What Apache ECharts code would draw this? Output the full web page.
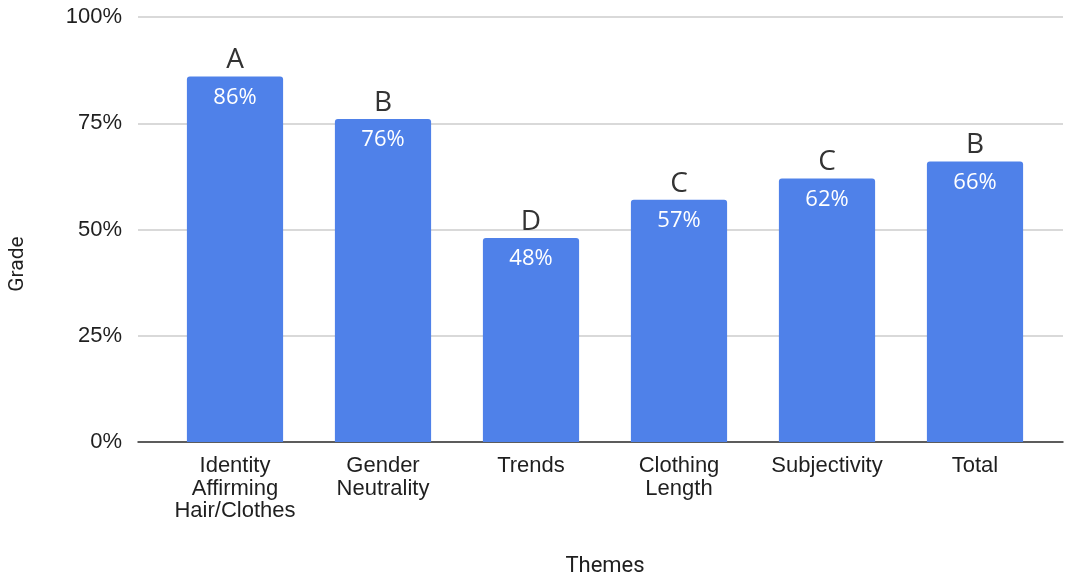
<!DOCTYPE html>
<html>
<head>
<meta charset="utf-8">
<script src="https://cdn.jsdelivr.net/npm/echarts@6/dist/echarts.min.js"></script>
<style>
  html, body { margin: 0; padding: 0; background: #fff; }
  #chart { width: 1066px; height: 580px; }
</style>
</head>
<body>
<div id="chart"></div>
<script>
const themes = ['Identity\nAffirming\nHair/Clothes', 'Gender\nNeutrality', 'Trends', 'Clothing\nLength', 'Subjectivity', 'Total'];
const grades = [0.86, 0.76, 0.48, 0.57, 0.62, 0.66];
const letters = ['A', 'B', 'D', 'C', 'C', 'B'];
const yTicks = [0, 0.25, 0.5, 0.75, 1];

const chart = echarts.init(document.getElementById('chart'), null, { renderer: 'canvas' });

const barColor = '#4f81e9';
const fontSans = 'Liberation Sans, Arial, sans-serif';
const textColor = '#1f1f1f';

chart.setOption({
  animation: false,
  backgroundColor: '#ffffff',
  grid: [
    // frame for the value scale and gridlines
    { left: 138, right: 3, top: 17, bottom: 138 },
    // frame for the bars
    { left: 161, right: 17, top: 17, bottom: 138 }
  ],
  graphic: [
    {
      type: 'text', x: 18, y: 264, rotation: Math.PI / 2,
      style: {
        text: 'Grade', fill: textColor, font: '21px Roboto, sans-serif',
        textAlign: 'center', textVerticalAlign: 'middle'
      }
    },
    {
      type: 'text', x: 605, y: 566,
      style: {
        text: 'Themes', fill: textColor, font: '22px Roboto, sans-serif',
        textAlign: 'center', textVerticalAlign: 'middle'
      }
    }
  ],
  xAxis: [
    {
      gridIndex: 0, type: 'value', min: 0, max: 1,
      axisLine: { show: true, lineStyle: { color: '#333333', width: 1.5 } },
      axisTick: { show: false }, axisLabel: { show: false }, splitLine: { show: false }
    },
    {
      gridIndex: 1, type: 'category', data: themes,
      axisLine: { show: false }, axisTick: { show: false },
      axisLabel: { color: textColor, fontFamily: fontSans, fontSize: 22, lineHeight: 22.5, margin: 13, interval: 0 }
    }
  ],
  yAxis: [
    {
      gridIndex: 0, type: 'value', min: 0, max: 1, interval: 0.25,
      axisLine: { show: false }, axisTick: { show: false },
      axisLabel: {
        color: textColor, fontFamily: fontSans, fontSize: 22, margin: 16,
        formatter: v => (yTicks.indexOf(v) >= 0 ? Math.round(v * 100) + '%' : '')
      },
      splitLine: { lineStyle: { color: '#cccccc', width: 1.5 } }
    },
    {
      gridIndex: 1, type: 'value', min: 0, max: 1, show: false
    }
  ],
  series: [
    {
      type: 'bar', xAxisIndex: 1, yAxisIndex: 1, data: grades,
      barWidth: '65%',
      itemStyle: { color: barColor, borderRadius: [3, 3, 0, 0] },
      label: {
        show: true, position: 'top', distance: 2,
        color: '#333333', fontFamily: 'Open Sans, sans-serif', fontSize: 28,
        formatter: p => letters[p.dataIndex]
      }
    },
    {
      type: 'bar', xAxisIndex: 1, yAxisIndex: 1, data: grades,
      barWidth: '65%', barGap: '-100%', silent: true,
      itemStyle: { color: 'rgba(0,0,0,0)' },
      label: {
        show: true, position: 'insideTop', distance: 10,
        color: '#ffffff', fontFamily: 'Open Sans, sans-serif', fontSize: 22,
        formatter: p => Math.round(p.value * 100) + '%'
      }
    }
  ]
});
</script>
</body>
</html>
